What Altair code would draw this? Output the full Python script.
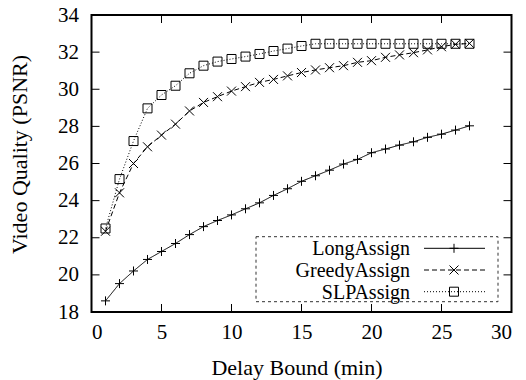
import altair as alt
import pandas as pd

# ---- data ----
delay = list(range(1, 28))
long_assign = [18.60, 19.53, 20.21, 20.83, 21.26, 21.69, 22.17, 22.60, 22.93, 23.23,
               23.56, 23.88, 24.28, 24.64, 25.04, 25.34, 25.64, 25.97, 26.22, 26.58,
               26.78, 26.99, 27.17, 27.41, 27.58, 27.80, 28.03]
greedy_assign = [22.35, 24.42, 26.00, 26.90, 27.53, 28.12, 28.83, 29.29, 29.60, 29.90,
                 30.14, 30.37, 30.53, 30.72, 30.90, 31.04, 31.16, 31.27, 31.45, 31.54,
                 31.72, 31.85, 31.97, 32.12, 32.29, 32.42, 32.47]
slp_assign = [22.50, 25.16, 27.21, 28.97, 29.69, 30.19, 30.86, 31.27, 31.49, 31.63,
              31.76, 31.90, 32.06, 32.19, 32.33, 32.45, 32.45, 32.45, 32.45, 32.45,
              32.45, 32.45, 32.45, 32.45, 32.45, 32.45, 32.45]

series_names = ["LongAssign", "GreedyAssign", "SLPAssign"]
x_ticks = [0, 5, 10, 15, 20, 25, 30]
y_ticks = [18, 20, 22, 24, 26, 28, 30, 32, 34]

# ---- styles ----
FONT = "Liberation Serif"
dashes = [[1, 0], [5, 3], [1, 2]]
shapes = ["M-1,0L1,0M0,-1L0,1", "M-1,-1L1,1M-1,1L1,-1", "square"]

rows = []
for name, vals in zip(series_names, [long_assign, greedy_assign, slp_assign]):
    for d, v in zip(delay, vals):
        rows.append({"delay": d, "psnr": v, "series": name})
df = pd.DataFrame(rows)

W, H = 420, 297

axis_common = dict(grid=False, ticks=False, domain=False, labelOverlap=False,
                   labelFont=FONT, titleFont=FONT, labelFontSize=21, titleFontSize=22,
                   titleFontWeight="normal", labelColor="black", titleColor="black")
x_axis = alt.Axis(values=x_ticks, title="Delay Bound (min)", labelPadding=9, titlePadding=15,
                  titleX=205, **axis_common)
y_axis = alt.Axis(values=y_ticks, title="Video Quality (PSNR)", labelPadding=13, titlePadding=26,
                  titleY=139, **axis_common)
x_scale = alt.Scale(domain=[0, 30], nice=False)
y_scale = alt.Scale(domain=[18, 34], nice=False, zero=False)


def X(field):
    return alt.X(field, scale=x_scale, axis=x_axis)


def Y(field):
    return alt.Y(field, scale=y_scale, axis=y_axis)


lines = alt.Chart(df).mark_line(color="black", strokeWidth=1).encode(
    x=X("delay:Q"), y=Y("psnr:Q"),
    strokeDash=alt.StrokeDash("series:N", scale=alt.Scale(domain=series_names, range=dashes), legend=None),
    detail="series:N",
)
points = alt.Chart(df).mark_point(color="black", filled=False, strokeWidth=1, size=81, opacity=1).encode(
    x=X("delay:Q"), y=Y("psnr:Q"),
    shape=alt.Shape("series:N", scale=alt.Scale(domain=series_names, range=shapes), legend=None),
)

# inward ticks on all four sides
xt = pd.DataFrame({"delay": x_ticks})
yt = pd.DataFrame({"psnr": y_ticks})
tick_b = alt.Chart(xt).mark_rule(color="black", strokeWidth=1).encode(
    x=X("delay:Q"), y=alt.value(H), y2=alt.value(H - 8))
tick_t = alt.Chart(xt).mark_rule(color="black", strokeWidth=1).encode(
    x=X("delay:Q"), y=alt.value(0), y2=alt.value(8))
tick_l = alt.Chart(yt).mark_rule(color="black", strokeWidth=1).encode(
    y=Y("psnr:Q"), x=alt.value(0), x2=alt.value(8))
tick_r = alt.Chart(yt).mark_rule(color="black", strokeWidth=1).encode(
    y=Y("psnr:Q"), x=alt.value(W), x2=alt.value(W - 8))

# legend box (gnuplot style)
leg_box = alt.Chart(pd.DataFrame({"a": [0]})).mark_rect(
    fill="white", stroke="#333333", strokeWidth=1, strokeDash=[3, 3]).encode(
    x=alt.value(164.5), x2=alt.value(406.5), y=alt.value(221.7), y2=alt.value(286.7))

leg_layers = []
row_y = [233.3, 255.0, 276.7]
for name, dsh, shp, ry in zip(series_names, dashes, shapes, row_y):
    src = alt.Chart(pd.DataFrame({"series": [name]}))
    leg_layers.append(src.mark_text(align="right", baseline="alphabetic", font=FONT, fontSize=20,
                                    color="black").encode(
        text="series:N", x=alt.value(318.5), y=alt.value(ry + 7)))
    leg_layers.append(src.mark_rule(color="black", strokeWidth=1, strokeDash=dsh).encode(
        x=alt.value(332.5), x2=alt.value(393.5), y=alt.value(ry)))
    leg_layers.append(src.mark_point(color="black", filled=False, strokeWidth=1, size=81,
                                     opacity=1, shape=shp).encode(
        x=alt.value(362.5), y=alt.value(ry)))

chart = alt.layer(lines, points, tick_b, tick_t, tick_l, tick_r, leg_box, *leg_layers).properties(
    width=W, height=H,
    autosize=alt.AutoSizeParams(type="none"),
    padding={"left": 91.5, "top": 15, "right": 14.5, "bottom": 68},
    background="white",
).configure_view(stroke="black", strokeWidth=2)

chart.save("out.html", embed_options={"renderer": "svg", "actions": False})
